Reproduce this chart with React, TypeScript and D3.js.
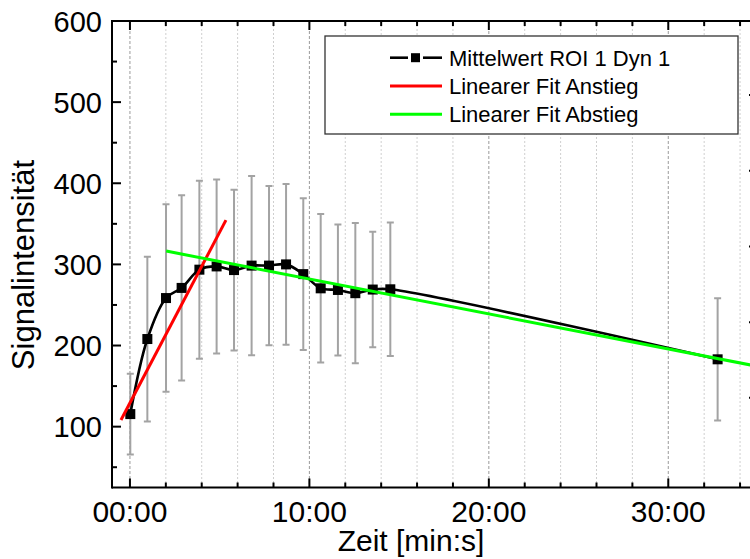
import React from "react";
import * as d3 from "d3";

// ---- data ----
const timeMin = [0.02, 0.97, 2.01, 2.88, 3.87, 4.83, 5.8, 6.78, 7.75, 8.7, 9.66, 10.63, 11.59, 12.56, 13.53, 14.51, 32.75];
const meanVals = [115.5, 208, 258.5, 271, 293.5, 297.5, 293, 298.5, 298.5, 300, 288, 270.5, 268.5, 264.5, 269, 269.3, 183];
const sdVals = [49.8, 101.5, 115.5, 114.2, 109.7, 107.2, 99.1, 110.5, 98.2, 99, 93.6, 91.5, 80.7, 86.5, 71.1, 82.2, 75.3];

const redFitT = [-0.5, 5.35];
const redFitV = [108.2, 354.5];
const greenFitT = [2.02, 35.5];
const greenFitV = [316.4, 172.1];

const xTickVals = [0, 10, 20, 30];
const xTickLabels = ["00:00", "10:00", "20:00", "30:00"];
const xMinorVals = d3.range(0, 36, 2);
const yTickVals = [100, 200, 300, 400, 500, 600];
const yMinorVals = [50, 150, 250, 350, 450, 550];
const rightTickVals = [1, 2, 3, 4, 5];

const legendLabels = ["Mittelwert ROI 1 Dyn 1", "Linearer Fit Anstieg", "Linearer Fit Abstieg"];

const FONT = "'Liberation Sans', Arial, Helvetica, sans-serif";

export default function App() {
  const W = 750, H = 559;
  const left = 112, right = 758, top = 21, bottom = 487.5;
  const x = d3.scaleLinear().domain([-1, 35]).range([left, right]);
  const y = d3.scaleLinear().domain([25, 600]).range([bottom, top]);
  const yR = d3.scaleLinear().domain([-0.184, 5.977]).range([bottom, top]);

  const pts = timeMin.map((t, i) => [t, meanVals[i]] as [number, number]);
  const lineGen = d3
    .line<[number, number]>()
    .x((d) => x(d[0]))
    .y((d) => y(d[1]))
    .curve(d3.curveCatmullRom.alpha(0.5));
  const straight = d3
    .line<[number, number]>()
    .x((d) => x(d[0]))
    .y((d) => y(d[1]));

  const redPts = redFitT.map((t, i) => [t, redFitV[i]] as [number, number]);
  const greenPts = greenFitT.map((t, i) => [t, greenFitV[i]] as [number, number]);

  const grey = "#a3a3a3";
  const ms = 10;

  return (
    <svg
      width={W}
      height={H}
      style={{ position: "absolute", left: 0, top: 0, background: "#fff" }}
      fontFamily={FONT}
    >
      <defs>
        <clipPath id="plotClip">
          <rect x={left} y={top} width={right - left} height={bottom - top} />
        </clipPath>
      </defs>
      <rect x={0} y={0} width={W} height={H} fill="#fff" />

      {/* vertical grid */}
      <g>
        {xMinorVals.map((v) => {
          const major = v % 10 === 0;
          return (
            <line
              key={"g" + v}
              x1={x(v)}
              x2={x(v)}
              y1={top}
              y2={bottom}
              stroke={major ? "#9a9a9a" : "#cfcfcf"}
              strokeWidth={1}
              strokeDasharray={major ? "3,2" : "2,2"}
            />
          );
        })}
      </g>

      <g clipPath="url(#plotClip)">
        {/* error bars */}
        {pts.map((d, i) => {
          const cx = x(d[0]);
          const y1 = y(d[1] + sdVals[i]);
          const y2 = y(d[1] - sdVals[i]);
          return (
            <g key={"e" + i} stroke={grey} strokeWidth={2}>
              <line x1={cx} x2={cx} y1={y1} y2={y2} />
              <line x1={cx - 3.5} x2={cx + 3.5} y1={y1} y2={y1} />
              <line x1={cx - 3.5} x2={cx + 3.5} y1={y2} y2={y2} />
            </g>
          );
        })}
        {/* mean curve */}
        <path d={lineGen(pts) || ""} fill="none" stroke="#000" strokeWidth={2.6} />
        {pts.map((d, i) => (
          <rect key={"m" + i} x={x(d[0]) - ms / 2} y={y(d[1]) - ms / 2} width={ms} height={ms} fill="#000" />
        ))}
        {/* fits */}
        <path d={straight(redPts) || ""} fill="none" stroke="#ff0000" strokeWidth={3} />
        <path d={straight(greenPts) || ""} fill="none" stroke="#00ff00" strokeWidth={3} />
      </g>

      {/* axes frame */}
      <g stroke="#000" strokeWidth={2} fill="none">
        <line x1={left} x2={right} y1={bottom} y2={bottom} />
        <line x1={left} x2={right} y1={top} y2={top} />
        <line x1={left} x2={left} y1={top - 1} y2={bottom + 1} />
        <line x1={right} x2={right} y1={top - 1} y2={bottom + 1} />
        {xMinorVals.map((v) => {
          const len = v % 10 === 0 ? 9 : 5;
          return (
            <g key={"xt" + v}>
              <line x1={x(v)} x2={x(v)} y1={bottom} y2={bottom - len} />
              <line x1={x(v)} x2={x(v)} y1={top} y2={top + len} />
            </g>
          );
        })}
        {yTickVals.map((v) => (
          <line key={"yt" + v} x1={left} x2={left + 9} y1={y(v)} y2={y(v)} />
        ))}
        {yMinorVals.map((v) => (
          <line key={"ym" + v} x1={left} x2={left + 5} y1={y(v)} y2={y(v)} />
        ))}
        {rightTickVals.map((v) => (
          <line key={"rt" + v} x1={right} x2={right - 9} y1={yR(v)} y2={yR(v)} />
        ))}
      </g>

      {/* tick labels */}
      <g fill="#000">
        {xTickVals.map((v, i) => (
          <text key={"xl" + v} x={x(v)} y={521.5} textAnchor="middle" fontSize={30}>
            {xTickLabels[i]}
          </text>
        ))}
        {yTickVals.map((v) => (
          <text key={"yl" + v} x={102} y={y(v) + 10.5} textAnchor="end" fontSize={29}>
            {v}
          </text>
        ))}
      </g>

      {/* axis titles */}
      <text x={411} y={551} fontSize={30} textAnchor="middle" fill="#000">
        Zeit [min:s]
      </text>
      <text
        transform={`translate(33.5,265) rotate(-90)`}
        fontSize={31}
        textAnchor="middle"
        fill="#000"
      >
        Signalintensität
      </text>

      {/* legend */}
      <g>
        <rect x={325} y={36} width={413} height={98} fill="#fff" stroke="#333" strokeWidth={1.3} />
        {legendLabels.map((lab, i) => {
          const cy = 57.7 + i * 28.3;
          return (
            <g key={"lg" + i}>
              {i === 0 ? (
                <g>
                  <line x1={390} x2={408} y1={cy} y2={cy} stroke="#000" strokeWidth={2.6} />
                  <line x1={423} x2={442} y1={cy} y2={cy} stroke="#000" strokeWidth={2.6} />
                  <rect x={411} y={cy - 4.5} width={9} height={9} fill="#000" />
                </g>
              ) : (
                <line
                  x1={390}
                  x2={442}
                  y1={cy}
                  y2={cy}
                  stroke={i === 1 ? "#ff0000" : "#00ff00"}
                  strokeWidth={3}
                />
              )}
              <text x={449} y={cy + 7.8} fontSize={22} fill="#000">
                {lab}
              </text>
            </g>
          );
        })}
      </g>
    </svg>
  );
}
